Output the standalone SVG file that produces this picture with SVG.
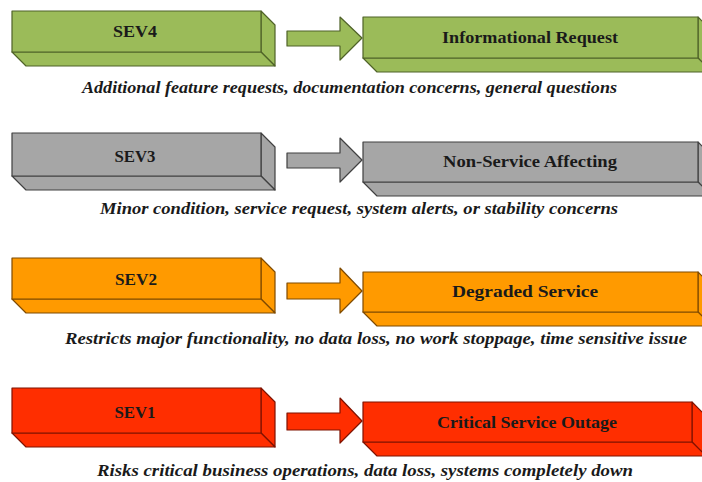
<svg xmlns="http://www.w3.org/2000/svg" width="702" height="482" viewBox="0 0 702 482">
  <style>
    .lbl { font-family: "Liberation Serif", "DejaVu Serif", serif; font-weight: bold; font-size: 17px; fill: #1a1a1a; text-anchor: middle; }
    .cap { font-family: "Liberation Serif", "DejaVu Serif", serif; font-weight: bold; font-style: italic; font-size: 17px; fill: #1a1a1a; }
    .sev4 path, .sev4 polygon, .sev4 rect { fill: #9bbb59; stroke: #4f6228; }
    .sev3 path, .sev3 polygon, .sev3 rect { fill: #a6a6a6; stroke: #404040; }
    .sev2 path, .sev2 polygon, .sev2 rect { fill: #ff9a00; stroke: #7f4a00; }
    .sev1 path, .sev1 polygon, .sev1 rect { fill: #ff2e00; stroke: #7f1200; }
    rect, polygon { stroke-width: 1.2; stroke-linejoin: round; }
  </style>
  <rect x="0" y="0" width="702" height="482" fill="#ffffff" stroke="none"/>

  <!-- SEV4 row -->
  <g id="sev4" class="sev4">
    <polygon points="261,11 275,25 275,66 261,52"/>
    <polygon points="12,52 261,52 275,66 26,66"/>
    <rect x="12" y="11" width="249" height="41"/>
    <text class="lbl" x="135" y="37" textLength="44" lengthAdjust="spacingAndGlyphs">SEV4</text>
  </g>
  <g id="informational-request" class="sev4">
    <polygon points="698,17 712,31 712,72 698,58"/>
    <polygon points="363,58 698,58 712,72 377,72"/>
    <rect x="363" y="17" width="335" height="41"/>
    <text class="lbl" x="530" y="43" textLength="176" lengthAdjust="spacingAndGlyphs">Informational Request</text>
  </g>
  <text class="cap" x="82" y="93" textLength="535" lengthAdjust="spacingAndGlyphs">Additional feature requests, documentation concerns, general questions</text>

  <!-- SEV3 row -->
  <g id="sev3" class="sev3">
    <polygon points="261,133 275,147 275,190 261,176"/>
    <polygon points="12,176 261,176 275,190 26,190"/>
    <rect x="12" y="133" width="249" height="43"/>
    <text class="lbl" x="135" y="162" textLength="41" lengthAdjust="spacingAndGlyphs">SEV3</text>
  </g>
  <g id="non-service-affecting" class="sev3">
    <polygon points="698,142 712,156 712,196 698,182"/>
    <polygon points="363,182 698,182 712,196 377,196"/>
    <rect x="363" y="142" width="335" height="40"/>
    <text class="lbl" x="530" y="167" textLength="174" lengthAdjust="spacingAndGlyphs">Non-Service Affecting</text>
  </g>
  <text class="cap" x="100" y="214" textLength="518" lengthAdjust="spacingAndGlyphs">Minor condition, service request, system alerts, or stability concerns</text>

  <!-- SEV2 row -->
  <g id="sev2" class="sev2">
    <polygon points="261,258 275,272 275,313 261,299"/>
    <polygon points="12,299 261,299 275,313 26,313"/>
    <rect x="12" y="258" width="249" height="41"/>
    <text class="lbl" x="136" y="285" textLength="42" lengthAdjust="spacingAndGlyphs">SEV2</text>
  </g>
  <g id="degraded-service" class="sev2">
    <polygon points="698,272 712,286 712,326 698,312"/>
    <polygon points="363,312 698,312 712,326 377,326"/>
    <rect x="363" y="272" width="335" height="40"/>
    <text class="lbl" x="525" y="297" textLength="146" lengthAdjust="spacingAndGlyphs">Degraded Service</text>
  </g>
  <text class="cap" x="65" y="344" textLength="622" lengthAdjust="spacingAndGlyphs">Restricts major functionality, no data loss, no work stoppage, time sensitive issue</text>

  <!-- SEV1 row -->
  <g id="sev1" class="sev1">
    <polygon points="261,388 275,402 275,447 261,433"/>
    <polygon points="12,433 261,433 275,447 26,447"/>
    <rect x="12" y="388" width="249" height="45"/>
    <text class="lbl" x="135" y="418" textLength="41" lengthAdjust="spacingAndGlyphs">SEV1</text>
  </g>
  <g id="critical-service-outage" class="sev1">
    <polygon points="692,402 706,416 706,456 692,442"/>
    <polygon points="363,442 692,442 706,456 377,456"/>
    <rect x="363" y="402" width="329" height="40"/>
    <text class="lbl" x="527" y="428" textLength="180" lengthAdjust="spacingAndGlyphs">Critical Service Outage</text>
  </g>
  <text class="cap" x="97" y="476" textLength="536" lengthAdjust="spacingAndGlyphs">Risks critical business operations, data loss, systems completely down</text>

  <!-- block arrows between each severity and its category -->
  <g id="connectors">
    <g class="sev4"><polygon points="287,31 340,31 340,17 362,38 340,60 340,46 287,46"/></g>
    <g class="sev3"><polygon points="287,153 340,153 340,138 362,160 340,182 340,168 287,168"/></g>
    <g class="sev2"><polygon points="287,283 340,283 340,268 362,291 340,313 340,299 287,299"/></g>
    <g class="sev1"><polygon points="287,413 340,413 340,398 362,421 340,443 340,430 287,430"/></g>
  </g>
</svg>
